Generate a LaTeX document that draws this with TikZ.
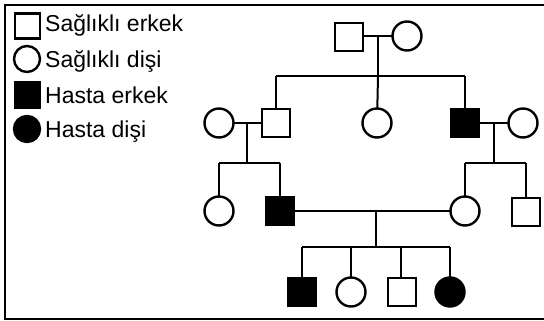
\documentclass[tikz,border=0pt]{standalone}
\usepackage{fontspec}
\setmainfont{Liberation Sans}
\begin{document}
\begin{tikzpicture}[x=1pt,y=-1pt,
  male/.style={draw=black,line width=2.4pt,fill=white,minimum size=28pt,inner sep=0pt,rectangle},
  female/.style={draw=black,line width=2.4pt,fill=white,minimum size=29pt,inner sep=0pt,circle},
  affm/.style={male,fill=black},
  afff/.style={female,fill=black},
  lmale/.style={male,minimum size=25pt},
  lfemale/.style={female,minimum size=26pt},
  rel/.style={line width=2pt,black},
  legtext/.style={anchor=base west,inner sep=0pt,font=\fontsize{23}{26}\selectfont}]
\useasboundingbox (0,0) rectangle (544,321);
% frame
\draw[line width=2pt] (600,5) -- (5,5) -- (5,319) -- (600,319);
% legend
\node[lmale] (l1) at (27.5,26) {};
\node[lfemale] (l2) at (27,59) {};
\node[lmale,fill=black] (l3) at (27.5,95) {};
\node[lfemale,fill=black] (l4) at (27,129) {};
\node[legtext] (t1) at (45,32) {Sağlıklı erkek};
\node[legtext] (t2) at (45,67) {Sağlıklı dişi};
\node[legtext] (t3) at (45,103) {Hasta erkek};
\node[legtext] (t4) at (45,138) {Hasta dişi};
% coordinates for connectors
\coordinate (m1) at (378,36);
\coordinate (s1) at (378,76);
\coordinate (s1l) at (276,76);
\coordinate (s1r) at (465,76);
\coordinate (m2) at (247,123);
\coordinate (s2) at (247,163);
\coordinate (s2l) at (219,163);
\coordinate (s2r) at (280,163);
\coordinate (m3) at (494,123);
\coordinate (s3) at (494,163);
\coordinate (s3l) at (465,163);
\coordinate (s3r) at (526,163);
\coordinate (m4) at (376,211);
\coordinate (s4) at (376,247);
\coordinate (s4l) at (302,247);
\coordinate (s4r) at (450,247);
\coordinate (s4b) at (351,247);
\coordinate (s4c) at (401,247);
% generation 1
\draw[rel] (349,36) -- (407,36);
\draw[rel] (m1) -- (s1);
\draw[rel] (s1l) -- (s1r);
\draw[rel] (s1l) -- (276,123);
\draw[rel] (378,76) -- (377,123);
\draw[rel] (s1r) -- (465,123);
% generation 2 left
\draw[rel] (219,123) -- (276,123);
\draw[rel] (m2) -- (s2);
\draw[rel] (s2l) -- (s2r);
\draw[rel] (s2l) -- (219,211);
\draw[rel] (s2r) -- (280,211);
% generation 2 right
\draw[rel] (465,123) -- (523,123);
\draw[rel] (m3) -- (s3);
\draw[rel] (s3l) -- (s3r);
\draw[rel] (s3l) -- (465,211);
\draw[rel] (s3r) -- (526,212);
% generation 3 marriage
\draw[rel] (280,211) -- (465,211);
\draw[rel] (m4) -- (s4);
\draw[rel] (s4l) -- (s4r);
\draw[rel] (s4l) -- (302,292);
\draw[rel] (s4b) -- (351,292);
\draw[rel] (s4c) -- (401,292);
\draw[rel] (s4r) -- (450,292);
% nodes
\node[male] (g1a) at (349,37) {};
\node[female] (g1b) at (407,36) {};
\node[female] (g2a) at (219,123) {};
\node[male] (g2b) at (276,123) {};
\node[female] (g2c) at (377,123) {};
\node[affm] (g2d) at (465,123) {};
\node[female] (g2e) at (523,123) {};
\node[female] (g3a) at (219,211) {};
\node[affm] (g3b) at (280,211) {};
\node[female] (g3c) at (465,211) {};
\node[male] (g3d) at (526,212) {};
\node[affm] (g4a) at (302,292) {};
\node[female] (g4b) at (351,292) {};
\node[male] (g4c) at (402,292) {};
\node[afff] (g4d) at (450,292) {};
\end{tikzpicture}
\end{document}
